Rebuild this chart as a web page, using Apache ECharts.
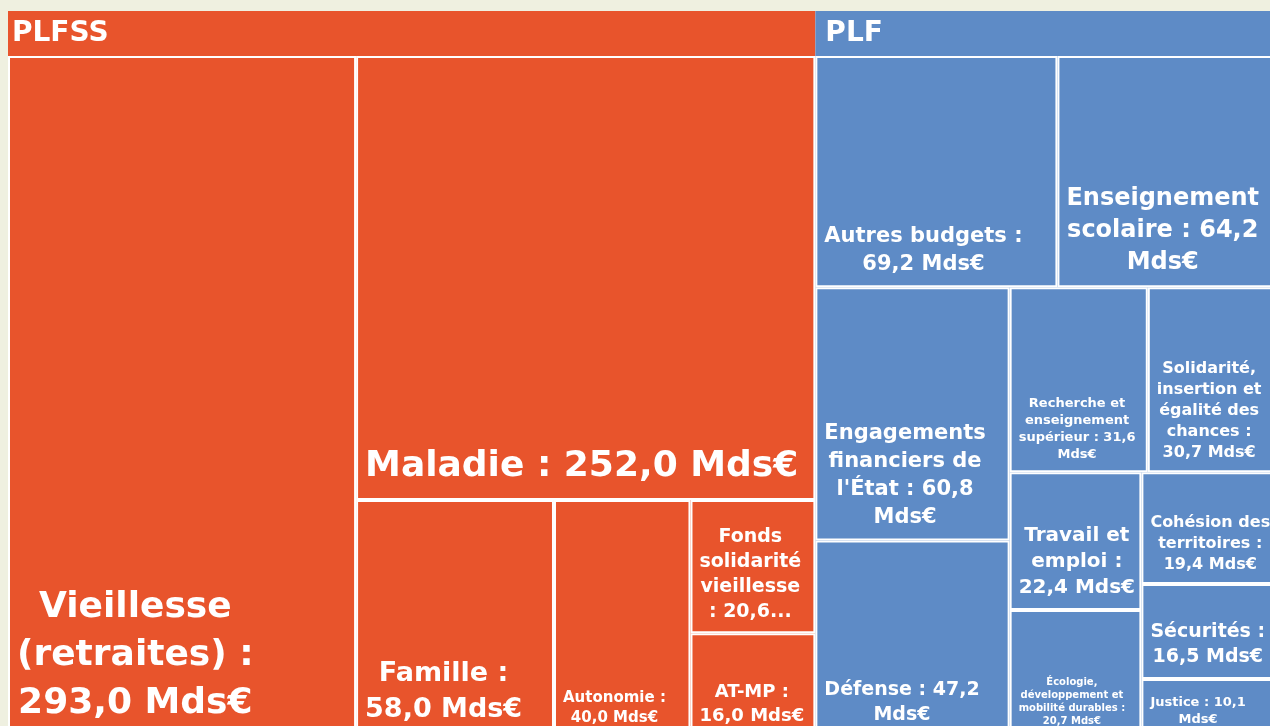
<!DOCTYPE html>
<html lang="fr">
<head>
    <meta charset="UTF-8"/>
    <title>PLFSS / PLF</title>
    <script src="https://cdn.jsdelivr.net/npm/echarts@6.0.0/dist/echarts.min.js"></script>
    <style>
        html, body { margin: 0; padding: 0; background: #eff0e0; }
        #main { width: 1270px; height: 726px; }
    </style>
</head>
<body>
<div id="main"></div>
<script type="text/javascript">
    // données (milliards d'euros)
    var groupNames = ['PLFSS', 'PLF'];

    var plfssNames = ['Vieillesse (retraites)', 'Maladie', 'Famille', 'Autonomie',
        'Fonds solidarité vieillesse', 'AT-MP'];
    var plfssValues = [293.0, 252.0, 58.0, 40.0, 20.6, 16.0];

    var plfNames = ['Autres budgets', 'Enseignement scolaire', "Engagements financiers de l'État",
        'Défense', 'Recherche et enseignement supérieur', 'Solidarité, insertion et égalité des chances',
        'Travail et emploi', 'Écologie, développement et mobilité durables', 'Cohésion des territoires',
        'Sécurités', 'Justice'];
    var plfValues = [69.2, 64.2, 60.8, 47.2, 31.6, 30.7, 22.4, 20.7, 19.4, 16.5, 10.1];

    // style
    var groupColors = ['#e8542c', '#5e8bc6'];
    var headerPadLeft = [4, 10];
    var font = "'DejaVu Sans', sans-serif";
    var pad = [2, 4, 7, 4];
    var textLeft = 7;
    var labelSizes = {
        'Vieillesse (retraites)': 36, 'Maladie': 36, 'Famille': 27, 'Autonomie': 15,
        'Fonds solidarité vieillesse': 19, 'AT-MP': 18,
        'Autres budgets': 21, 'Enseignement scolaire': 24, "Engagements financiers de l'État": 21,
        'Défense': 19, 'Recherche et enseignement supérieur': 13,
        'Solidarité, insertion et égalité des chances': 16, 'Travail et emploi': 20,
        'Écologie, développement et mobilité durables': 10, 'Cohésion des territoires': 16,
        'Sécurités': 19, 'Justice': 13
    };

    function fmt(v) {
        return v.toFixed(1).replace('.', ',') + ' Mds€';
    }

    function lineH(fs) {
        return Math.round(fs * 1.32);
    }

    // retour à la ligne sur les espaces seulement, "..." si trop de lignes
    var measureCtx = document.createElement('canvas').getContext('2d');
    function wrapLines(text, fs, maxW, maxH) {
        measureCtx.font = 'bold ' + fs + 'px ' + font;
        var words = text.split(' ');
        var lines = [];
        var cur = '';
        words.forEach(function (w) {
            var t = cur ? cur + ' ' + w : w;
            if (cur && measureCtx.measureText(t).width > maxW) {
                lines.push(cur);
                cur = w;
            } else {
                cur = t;
            }
        });
        if (cur) lines.push(cur);
        var maxLines = Math.max(1, Math.floor(maxH / lineH(fs)));
        if (lines.length > maxLines) {
            lines = lines.slice(0, maxLines);
            lines[maxLines - 1] += '...';
        }
        return lines;
    }

    function getLayout(idx) {
        return myChart.getModel().getSeriesByIndex(0).getData().getItemLayout(idx);
    }

    function labelFor(name, value, lay) {
        var text = name + ' : ' + fmt(value);
        var fs = labelSizes[name];
        var bw = lay.borderWidth || 0;
        var w = lay.width - 2 * bw - pad[1] - pad[3];
        var h = lay.height - 2 * bw - pad[0] - pad[2];
        var lines = wrapLines(text, fs, w, h);
        measureCtx.font = 'bold ' + fs + 'px ' + font;
        var blockW = 0;
        lines.forEach(function (l) { blockW = Math.max(blockW, measureCtx.measureText(l).width); });
        return { lines: lines, blockW: blockW, contentH: lay.height - 2 * bw };
    }

    function leaves(names, values) {
        return names.map(function (n, i) {
            var fs = labelSizes[n];
            return {
                name: n,
                value: values[i],
                label: { fontSize: fs, lineHeight: lineH(fs) }
            };
        });
    }

    var treeData = [
        { name: groupNames[0], itemStyle: { color: groupColors[0], borderColor: groupColors[0] },
          upperLabel: { padding: [0, 0, 0, headerPadLeft[0]] },
          children: leaves(plfssNames, plfssValues) },
        { name: groupNames[1], itemStyle: { color: groupColors[1], borderColor: groupColors[1] },
          upperLabel: { padding: [0, 0, 0, headerPadLeft[1]] },
          children: leaves(plfNames, plfValues) }
    ];

    var myChart = echarts.init(document.getElementById('main'));

    myChart.setOption({
        animation: false,
        backgroundColor: '#eff0e0',
        series: [{
            type: 'treemap',
            left: 8,
            top: 11,
            width: 1274,
            height: 726,
            roam: false,
            nodeClick: false,
            breadcrumb: { show: false },
            squareRatio: 0.8,
            label: {
                show: true,
                position: 'insideBottom',
                distance: 0,
                padding: pad,
                color: '#fff',
                fontFamily: font,
                fontWeight: 'bold',
                overflow: 'none',
                formatter: function (p) {
                    var lay = getLayout(p.dataIndex);
                    if (!lay) return p.name + ' : ' + fmt(p.value);
                    return labelFor(p.name, p.value, lay).lines.join('\n');
                }
            },
            upperLabel: {
                show: true,
                height: 45,
                color: '#fff',
                fontFamily: font,
                fontWeight: 'bold',
                fontSize: 28,
                formatter: '{b}'
            },
            levels: [
                { itemStyle: { borderWidth: 0, gapWidth: 0 }, upperLabel: { show: false } },
                { itemStyle: { borderWidth: 0, gapWidth: 0 } },
                { itemStyle: { borderWidth: 2, borderColor: '#fff', gapWidth: 0 } }
            ],
            data: treeData
        }]
    });

    // second passage : bloc de texte calé à gauche, lignes centrées dans le bloc
    var seriesData = myChart.getModel().getSeriesByIndex(0).getData();
    treeData.forEach(function (g) {
        g.children.forEach(function (leaf) {
            var idx = seriesData.indexOfName(leaf.name);
            var lay = seriesData.getItemLayout(idx);
            if (!lay) return;
            var info = labelFor(leaf.name, leaf.value, lay);
            leaf.label.position = [textLeft + info.blockW / 2, info.contentH];
            leaf.label.align = 'center';
            leaf.label.verticalAlign = 'bottom';
        });
    });
    myChart.setOption({ series: [{ data: treeData }] });
</script>
</body>
</html>
